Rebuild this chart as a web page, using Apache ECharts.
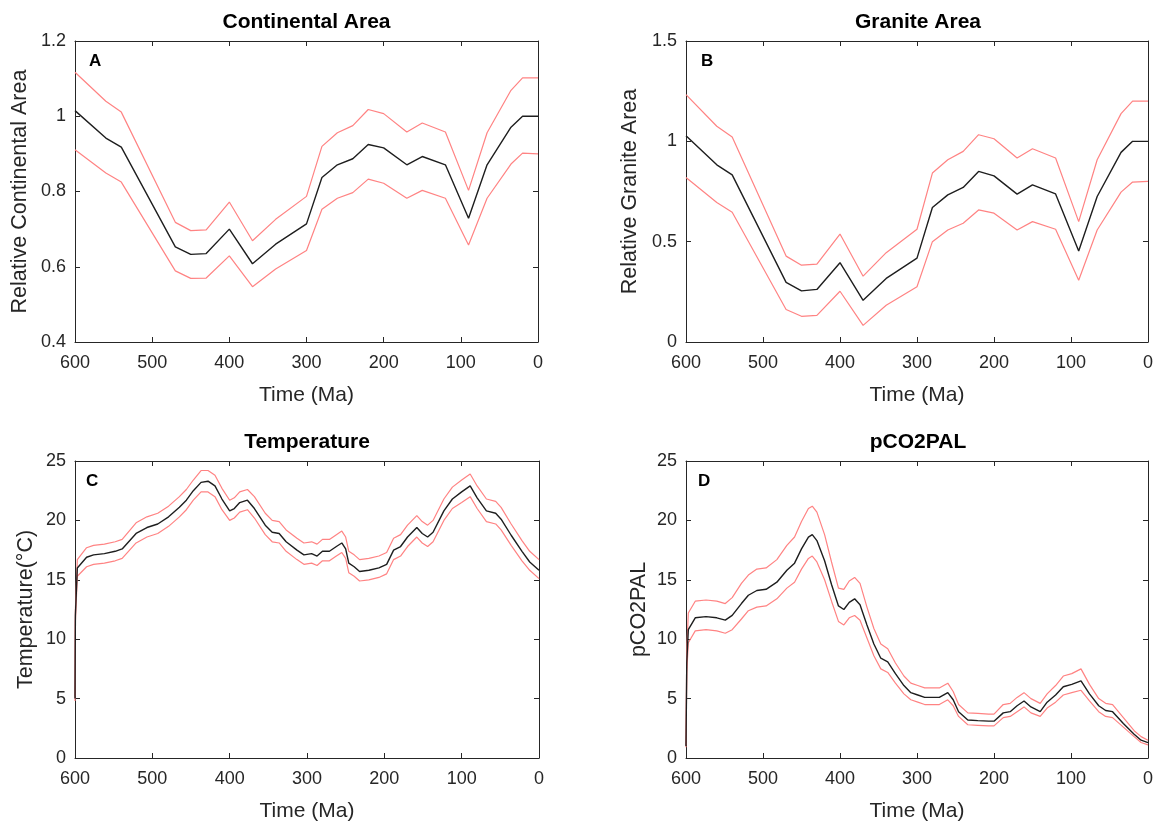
<!DOCTYPE html>
<html>
<head>
<meta charset="utf-8">
<title>Continental area, granite area, temperature and pCO2</title>
<script src="https://cdn.jsdelivr.net/npm/echarts@6/dist/echarts.min.js"></script>
<style>
  html, body { margin: 0; padding: 0; background: #ffffff; }
  #chart { width: 1156px; height: 823px; }
</style>
</head>
<body>
<div id="chart"></div>
<script>
// ---- Time grid (Ma) for the area reconstructions ----
const timeAB = [600, 560, 540, 470, 450, 430, 400, 370, 340, 300, 280, 260, 240, 220, 200, 170, 150, 120, 90, 66, 35, 20, 0];

// A: relative continental area (mean and envelope)
const areaMean  = [1.015, 0.942, 0.918, 0.653, 0.633, 0.635, 0.700, 0.608, 0.660, 0.714, 0.837, 0.871, 0.887, 0.925, 0.916, 0.871, 0.893, 0.871, 0.729, 0.871, 0.971, 1.000, 1.000];
const areaUpper = [1.117, 1.040, 1.011, 0.718, 0.696, 0.698, 0.772, 0.669, 0.726, 0.787, 0.920, 0.956, 0.975, 1.018, 1.007, 0.958, 0.982, 0.958, 0.803, 0.956, 1.069, 1.102, 1.102];
const areaLower = [0.911, 0.849, 0.825, 0.589, 0.569, 0.570, 0.629, 0.547, 0.594, 0.643, 0.753, 0.782, 0.797, 0.833, 0.822, 0.782, 0.803, 0.782, 0.658, 0.782, 0.873, 0.902, 0.900];

// B: relative granite area (mean and envelope)
const graniteMean  = [1.028, 0.883, 0.833, 0.297, 0.255, 0.262, 0.395, 0.208, 0.317, 0.418, 0.670, 0.733, 0.770, 0.850, 0.828, 0.737, 0.783, 0.738, 0.453, 0.725, 0.945, 1.000, 1.000];
const graniteUpper = [1.233, 1.075, 1.022, 0.428, 0.383, 0.388, 0.538, 0.328, 0.445, 0.562, 0.842, 0.908, 0.950, 1.033, 1.013, 0.917, 0.963, 0.917, 0.600, 0.908, 1.138, 1.200, 1.200];
const graniteLower = [0.820, 0.695, 0.647, 0.162, 0.128, 0.133, 0.253, 0.083, 0.183, 0.275, 0.500, 0.558, 0.592, 0.658, 0.642, 0.558, 0.600, 0.562, 0.308, 0.558, 0.747, 0.797, 0.800];

// C: global mean temperature (°C)
const tempTime  = [600, 599.5, 597, 585, 576, 562, 548, 539, 521, 507, 493, 479, 465, 456, 447, 437, 428, 419, 410, 400, 394, 387, 377, 368, 354, 345, 336, 327, 313, 304, 294, 287, 280, 271, 262, 255, 250, 246, 239, 232, 220, 207, 197, 188, 179, 170, 158, 151, 144, 137, 123, 112, 100, 89, 80, 68, 56, 49, 36, 22, 12, 0];
const tempMean  = [5.0, 12.0, 16.0, 16.9, 17.1, 17.2, 17.4, 17.6, 18.9, 19.4, 19.7, 20.3, 21.1, 21.7, 22.5, 23.2, 23.3, 22.9, 21.8, 20.8, 21.0, 21.5, 21.7, 21.0, 19.6, 19.0, 18.9, 18.2, 17.5, 17.1, 17.2, 17.0, 17.4, 17.4, 17.8, 18.1, 17.6, 16.4, 16.1, 15.7, 15.8, 16.0, 16.3, 17.5, 17.8, 18.6, 19.4, 18.9, 18.6, 19.0, 20.8, 21.8, 22.4, 22.9, 21.9, 20.8, 20.6, 20.1, 18.75, 17.4, 16.5, 15.8];
const tempUpper = [5.2, 12.5, 16.7, 17.7, 17.9, 18.0, 18.2, 18.4, 19.8, 20.3, 20.6, 21.2, 22.0, 22.6, 23.4, 24.2, 24.2, 23.8, 22.7, 21.7, 21.9, 22.4, 22.6, 22.0, 20.6, 20.0, 19.9, 19.2, 18.5, 18.1, 18.2, 18.0, 18.4, 18.4, 18.8, 19.1, 18.6, 17.4, 17.1, 16.7, 16.8, 17.0, 17.3, 18.5, 18.8, 19.6, 20.4, 19.9, 19.6, 20.0, 21.8, 22.8, 23.4, 23.9, 22.9, 21.8, 21.6, 21.1, 19.7, 18.3, 17.4, 16.7];
const tempLower = [4.8, 11.5, 15.3, 16.1, 16.3, 16.4, 16.6, 16.8, 18.1, 18.6, 18.9, 19.5, 20.3, 20.9, 21.7, 22.4, 22.4, 22.0, 20.9, 20.0, 20.2, 20.7, 20.9, 20.2, 18.8, 18.2, 18.1, 17.4, 16.7, 16.3, 16.4, 16.2, 16.6, 16.6, 17.0, 17.3, 16.8, 15.6, 15.3, 14.9, 15.0, 15.2, 15.5, 16.7, 17.0, 17.8, 18.6, 18.1, 17.8, 18.2, 20.0, 21.0, 21.5, 22.0, 21.0, 19.9, 19.7, 19.2, 17.9, 16.6, 15.8, 15.1];

// D: atmospheric CO2 relative to present (PAL)
const co2Time  = [600, 599, 597, 588, 574, 560, 549, 540, 528, 519, 508, 496, 482, 469, 459, 450, 441, 436, 430, 420, 411, 402, 395, 388, 381, 374, 365, 356, 347, 338, 328, 317, 308, 299, 290, 280, 271, 260, 253, 246, 234, 221, 207, 200, 188, 179, 170, 161, 152, 140, 131, 120, 110, 99, 87, 76, 64, 55, 46, 32, 18, 9, 0];
const co2Mean  = [1.0, 8.0, 10.8, 11.8, 11.9, 11.8, 11.6, 12.0, 13.0, 13.7, 14.1, 14.2, 14.8, 15.8, 16.4, 17.6, 18.6, 18.8, 18.3, 16.6, 14.6, 12.8, 12.5, 13.1, 13.4, 12.9, 11.2, 9.6, 8.4, 8.1, 7.1, 6.1, 5.5, 5.3, 5.1, 5.1, 5.1, 5.5, 4.9, 3.9, 3.2, 3.15, 3.1, 3.1, 3.8, 3.9, 4.4, 4.8, 4.3, 3.9, 4.7, 5.3, 6.0, 6.2, 6.5, 5.4, 4.4, 4.0, 3.9, 2.9, 2.0, 1.5, 1.3];
const co2Upper = [1.1, 9.0, 12.2, 13.2, 13.3, 13.2, 13.0, 13.5, 14.7, 15.4, 15.9, 16.0, 16.7, 17.9, 18.6, 19.9, 21.0, 21.2, 20.7, 18.8, 16.5, 14.3, 14.2, 14.9, 15.2, 14.7, 12.7, 10.9, 9.6, 9.2, 8.0, 6.9, 6.3, 6.1, 5.9, 5.9, 5.9, 6.3, 5.6, 4.5, 3.8, 3.75, 3.7, 3.7, 4.5, 4.6, 5.1, 5.5, 5.0, 4.6, 5.4, 6.1, 6.9, 7.1, 7.5, 6.2, 5.0, 4.6, 4.5, 3.4, 2.3, 1.8, 1.5];
const co2Lower = [0.9, 7.2, 9.7, 10.7, 10.8, 10.7, 10.5, 10.8, 11.7, 12.4, 12.7, 12.8, 13.4, 14.3, 14.8, 15.9, 16.8, 17.0, 16.5, 15.0, 13.2, 11.5, 11.2, 11.8, 12.0, 11.6, 10.1, 8.6, 7.5, 7.2, 6.3, 5.4, 4.9, 4.7, 4.5, 4.5, 4.5, 4.9, 4.4, 3.5, 2.8, 2.75, 2.7, 2.7, 3.4, 3.5, 3.9, 4.3, 3.8, 3.5, 4.2, 4.7, 5.3, 5.5, 5.7, 4.8, 3.9, 3.5, 3.4, 2.6, 1.8, 1.3, 1.1];

// ---- Panel descriptions ----
const panels = [
  { title: 'Continental Area', letter: 'A', yName: 'Relative Continental Area', yMin: 0.4, yMax: 1.2, yStep: 0.2,
    time: timeAB, mean: areaMean, upper: areaUpper, lower: areaLower, nameGap: 44 },
  { title: 'Granite Area', letter: 'B', yName: 'Relative Granite Area', yMin: 0, yMax: 1.5, yStep: 0.5,
    time: timeAB, mean: graniteMean, upper: graniteUpper, lower: graniteLower, nameGap: 45 },
  { title: 'Temperature', letter: 'C', yName: 'Temperature(\u00B0C)', yMin: 0, yMax: 25, yStep: 5,
    time: tempTime, mean: tempMean, upper: tempUpper, lower: tempLower, nameGap: 38 },
  { title: 'pCO2PAL', letter: 'D', yName: 'pCO2PAL', yMin: 0, yMax: 25, yStep: 5,
    time: co2Time, mean: co2Mean, upper: co2Upper, lower: co2Lower, nameGap: 36 }
];

// Plot boxes of the 2x2 layout
const boxes = [
  { left: 75,  top: 41,  width: 463, height: 301 },
  { left: 686, top: 41,  width: 464, height: 301 },
  { left: 75,  top: 461, width: 464, height: 301 },
  { left: 686, top: 461, width: 464, height: 301 }
];
const letterPos = [[89, 61], [701, 61], [86, 481], [698, 481]];

const FONT = 'Liberation Sans, Arial, Helvetica, sans-serif';
const AXIS_COLOR = '#262626';
const MEAN_COLOR = '#1e1e1e';
const BAND_COLOR = '#ff8383';

const pairs = (t, v) => t.map((x, i) => [x, v[i]]);

const lineStyle = { color: AXIS_COLOR, width: 1 };

function xAxisFor(gi, bottom) {
  return {
    type: 'value', gridIndex: gi, inverse: true, min: 0, max: 600, interval: 100,
    position: bottom ? 'bottom' : 'top',
    name: bottom ? 'Time (Ma)' : '', nameLocation: 'middle', nameGap: 43,
    nameTextStyle: { fontFamily: FONT, fontSize: 21, color: AXIS_COLOR },
    axisLine: { show: true, onZero: false, lineStyle },
    axisTick: { show: true, inside: true, length: 5, lineStyle },
    axisLabel: { show: bottom, margin: 12, fontFamily: FONT, fontSize: 18, color: AXIS_COLOR },
    splitLine: { show: false }
  };
}

function yAxisFor(gi, p, left) {
  return {
    type: 'value', gridIndex: gi, min: p.yMin, max: p.yMax, interval: p.yStep,
    position: left ? 'left' : 'right',
    name: left ? p.yName : '', nameLocation: 'middle', nameGap: p.nameGap, nameRotate: 90,
    nameTextStyle: { fontFamily: FONT, fontSize: 21.5, color: AXIS_COLOR },
    axisLine: { show: true, onZero: false, lineStyle },
    axisTick: { show: true, inside: true, length: 5, lineStyle },
    axisLabel: { show: left, margin: 9, fontFamily: FONT, fontSize: 18, color: AXIS_COLOR },
    splitLine: { show: false }
  };
}

const grid = [], xAxis = [], yAxis = [], series = [], graphic = [];

panels.forEach((p, i) => {
  const b = boxes[i];
  grid.push({ left: b.left, top: b.top, width: b.width, height: b.height, containLabel: false });
  xAxis.push(xAxisFor(i, true), xAxisFor(i, false));
  yAxis.push(yAxisFor(i, p, true), yAxisFor(i, p, false));

  const common = { type: 'line', xAxisIndex: 2 * i, yAxisIndex: 2 * i, showSymbol: false,
                   symbol: 'none', animation: false, silent: true };
  series.push(Object.assign({}, common, { name: p.letter + ' upper', data: pairs(p.time, p.upper),
    lineStyle: { color: BAND_COLOR, width: 1.2 }, z: 2 }));
  series.push(Object.assign({}, common, { name: p.letter + ' lower', data: pairs(p.time, p.lower),
    lineStyle: { color: BAND_COLOR, width: 1.2 }, z: 2 }));
  series.push(Object.assign({}, common, { name: p.letter + ' mean', data: pairs(p.time, p.mean),
    lineStyle: { color: MEAN_COLOR, width: 1.4 }, z: 3 }));

  // panel title above the box and bold panel letter in its upper-left corner
  graphic.push({
    type: 'text', x: b.left + b.width / 2, y: b.top - 19,
    style: { text: p.title, font: 'bold 21px ' + FONT, fill: '#000000', align: 'center', verticalAlign: 'middle' }
  });
  graphic.push({
    type: 'text', x: letterPos[i][0], y: letterPos[i][1],
    style: { text: p.letter, font: 'bold 17px ' + FONT, fill: '#000000', align: 'left', verticalAlign: 'middle' }
  });
});

const chart = echarts.init(document.getElementById('chart'), null, { renderer: 'canvas' });
chart.setOption({
  backgroundColor: '#ffffff',
  animation: false,
  grid, xAxis, yAxis, series, graphic
});
</script>
</body>
</html>
